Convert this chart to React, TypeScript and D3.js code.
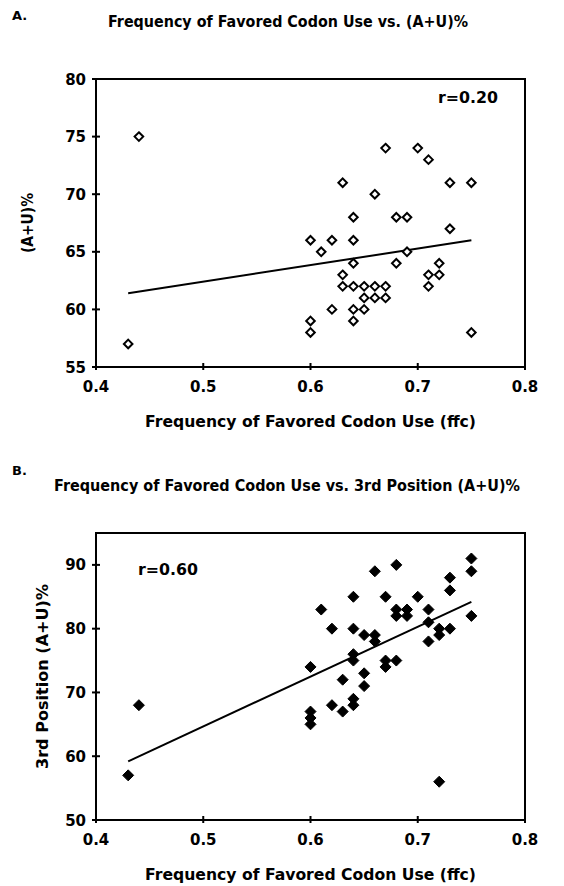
import React from "react";
import * as d3 from "d3";

// ---- Data ----
const ffcA = [0.43, 0.44, 0.60, 0.60, 0.60, 0.61, 0.62, 0.62, 0.63, 0.63, 0.63, 0.64, 0.64, 0.64, 0.64, 0.64, 0.64, 0.65, 0.65, 0.65, 0.66, 0.66, 0.66, 0.67, 0.67, 0.67, 0.68, 0.68, 0.69, 0.69, 0.70, 0.71, 0.71, 0.71, 0.72, 0.72, 0.73, 0.73, 0.75, 0.75];
const auA = [57, 75, 66, 59, 58, 65, 66, 60, 71, 63, 62, 68, 66, 64, 62, 60, 59, 62, 61, 60, 70, 62, 61, 74, 62, 61, 68, 64, 68, 65, 74, 73, 63, 62, 64, 63, 71, 67, 71, 58];
const fitA = [[0.43, 61.4], [0.75, 66.0]];

const ffcB = [0.43, 0.44, 0.60, 0.60, 0.60, 0.60, 0.61, 0.62, 0.62, 0.63, 0.63, 0.64, 0.64, 0.64, 0.64, 0.64, 0.64, 0.65, 0.65, 0.65, 0.66, 0.66, 0.66, 0.67, 0.67, 0.67, 0.68, 0.68, 0.68, 0.68, 0.69, 0.69, 0.70, 0.71, 0.71, 0.71, 0.72, 0.72, 0.72, 0.73, 0.73, 0.73, 0.75, 0.75, 0.75];
const au3B = [57, 68, 74, 67, 66, 65, 83, 80, 68, 72, 67, 85, 80, 76, 75, 69, 68, 79, 73, 71, 89, 79, 78, 85, 75, 74, 90, 83, 82, 75, 83, 82, 85, 83, 81, 78, 80, 79, 56, 88, 86, 80, 91, 89, 82];
const fitB = [[0.43, 59.2], [0.75, 84.2]];

const xTicks = [0.4, 0.5, 0.6, 0.7, 0.8];
const yTicksA = [55, 60, 65, 70, 75, 80];
const yTicksB = [50, 60, 70, 80, 90];

const FONT = "DejaVu Sans";

type PanelProps = {
  top: number;
  bottom: number;
  yDomain: [number, number];
  yTicks: number[];
  xs: number[];
  ys: number[];
  fit: number[][];
  filled: boolean;
  rLabel: string;
  rPos: [number, number];
  yTitle: string;
  yTitleX: number;
  yTitleLen: number;
};

const LEFT = 96;
const RIGHT = 525;

function Panel(p: PanelProps) {
  const x = d3.scaleLinear().domain([0.4, 0.8]).range([LEFT, RIGHT]);
  const y = d3.scaleLinear().domain(p.yDomain).range([p.bottom, p.top]);
  const line = d3.line<number[]>().x((d) => x(d[0])).y((d) => y(d[1]));
  const diamond = (cx: number, cy: number, r: number) =>
    `M${cx},${cy - r}L${cx + r},${cy}L${cx},${cy + r}L${cx - r},${cy}Z`;
  const yMid = (p.top + p.bottom) / 2;
  return (
    <g>
      <rect x={LEFT} y={p.top} width={RIGHT - LEFT} height={p.bottom - p.top} fill="none" stroke="#000" strokeWidth={2} />
      {xTicks.map((t) => (
        <g key={"x" + t}>
          <line x1={x(t)} x2={x(t)} y1={p.bottom - 4} y2={p.bottom + 3} stroke="#000" strokeWidth={2} />
          <text x={x(t)} y={p.bottom + 25} textAnchor="middle" fontFamily={FONT} fontWeight="bold" fontSize={15}>
            {t.toFixed(1)}
          </text>
        </g>
      ))}
      {p.yTicks.map((t) => (
        <g key={"y" + t}>
          <line x1={LEFT - 4} x2={LEFT + 4} y1={y(t)} y2={y(t)} stroke="#000" strokeWidth={2} />
          <text x={LEFT - 10} y={y(t) + 5.5} textAnchor="end" fontFamily={FONT} fontWeight="bold" fontSize={15}>
            {t}
          </text>
        </g>
      ))}
      <text x={(LEFT + RIGHT) / 2} y={p.bottom + 60} textAnchor="middle" fontFamily={FONT} fontWeight="bold" fontSize={15}
        textLength={331} lengthAdjust="spacingAndGlyphs">
        Frequency of Favored Codon Use (ffc)
      </text>
      <text transform={`translate(${p.yTitleX},${yMid}) rotate(-90)`} textAnchor="middle" fontFamily={FONT} fontWeight="bold" fontSize={15}
        textLength={p.yTitleLen} lengthAdjust="spacingAndGlyphs">
        {p.yTitle}
      </text>
      <path d={line(p.fit) || ""} fill="none" stroke="#000" strokeWidth={2} />
      {p.xs.map((v, i) => (
        <path key={i} d={diamond(x(v), y(p.ys[i]), p.filled ? 5.5 : 4.3)}
          fill={p.filled ? "#000" : "#fff"} stroke="#000" strokeWidth={p.filled ? 1 : 2} />
      ))}
      <text x={p.rPos[0]} y={p.rPos[1]} fontFamily={FONT} fontWeight="bold" fontSize={15} textLength={60} lengthAdjust="spacingAndGlyphs">
        {p.rLabel}
      </text>
    </g>
  );
}

export default function App() {
  return (
    <svg width={564} height={886} style={{ position: "absolute", left: 0, top: 0, background: "#fff" }}>
      <rect width={564} height={886} fill="#fff" />
      <text x={12} y={20} fontFamily={FONT} fontWeight="bold" fontSize={13}>A.</text>
      <text x={108} y={27} fontFamily={FONT} fontWeight="bold" fontSize={15} textLength={360} lengthAdjust="spacingAndGlyphs">
        Frequency of Favored Codon Use vs. (A+U)%
      </text>
      <Panel top={79} bottom={367} yDomain={[55, 80]} yTicks={yTicksA} xs={ffcA} ys={auA} fit={fitA} filled={false}
        rLabel="r=0.20" rPos={[438, 103]} yTitle="(A+U)%" yTitleX={33} yTitleLen={60} />
      <text x={12} y={475} fontFamily={FONT} fontWeight="bold" fontSize={13}>B.</text>
      <text x={54} y={491} fontFamily={FONT} fontWeight="bold" fontSize={15} textLength={466} lengthAdjust="spacingAndGlyphs">
        Frequency of Favored Codon Use vs. 3rd Position (A+U)%
      </text>
      <Panel top={533} bottom={820} yDomain={[50, 95]} yTicks={yTicksB} xs={ffcB} ys={au3B} fit={fitB} filled={true}
        rLabel="r=0.60" rPos={[138, 575]} yTitle="3rd Position (A+U)%" yTitleX={48} yTitleLen={185} />
    </svg>
  );
}
